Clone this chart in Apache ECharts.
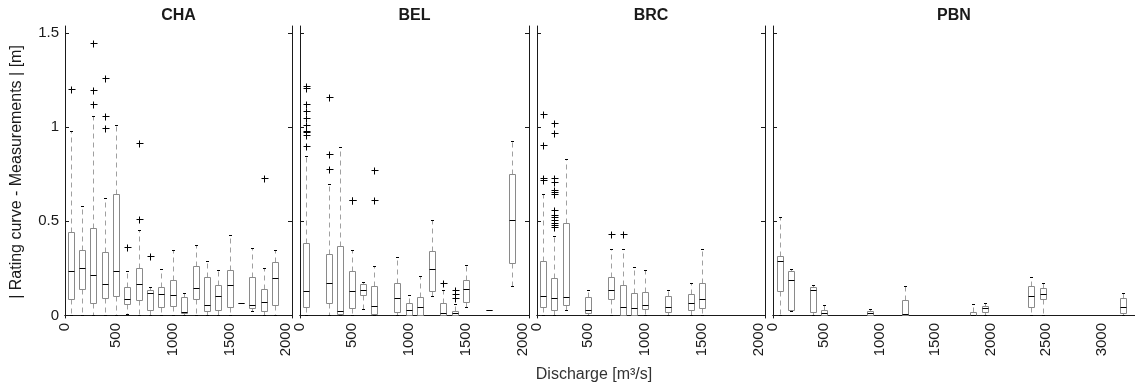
<!DOCTYPE html>
<html>
<head>
<meta charset="utf-8">
<script src="https://cdn.jsdelivr.net/npm/echarts@6/dist/echarts.min.js"></script>
<style>
html,body{margin:0;padding:0;background:#fff;}
#main{width:1135px;height:386px;}
</style>
</head>
<body>
<div id="main"></div>
<script>
// panel names
const panels = ['CHA', 'BEL', 'BRC', 'PBN'];

// boxes: [discharge, lower whisker, q1, median, q3, upper whisker]
const chaBoxes = [
  [100, 0, 0.085, 0.234, 0.443, 0.980],
  [200, 0, 0.142, 0.253, 0.349, 0.579],
  [300, 0, 0.065, 0.216, 0.464, 1.059],
  [400, 0, 0.094, 0.169, 0.337, 0.626],
  [500, 0, 0.101, 0.234, 0.647, 1.009],
  [600, 0.009, 0.058, 0.089, 0.153, 0.234],
  [700, 0, 0.083, 0.169, 0.251, 0.455],
  [800, 0, 0.030, 0.118, 0.136, 0.150],
  [900, 0, 0.044, 0.115, 0.150, 0.248],
  [1000, 0, 0.049, 0.110, 0.189, 0.349],
  [1100, 0, 0.012, 0.017, 0.097, 0.118],
  [1200, 0, 0.085, 0.147, 0.264, 0.376],
  [1300, 0, 0.021, 0.056, 0.204, 0.287],
  [1400, 0, 0.027, 0.105, 0.163, 0.240],
  [1500, 0, 0.047, 0.163, 0.242, 0.426],
  [1600, 0.065, 0.065, 0.065, 0.065, 0.065],
  [1700, 0.021, 0.039, 0.056, 0.204, 0.358],
  [1800, 0, 0.023, 0.069, 0.142, 0.251],
  [1900, 0, 0.056, 0.200, 0.284, 0.349]
];
// outliers: [discharge, value]
const chaOutliers = [
  [100, 1.204], [300, 1.449], [300, 1.197], [300, 1.122],
  [400, 1.263], [400, 1.059], [400, 0.997], [600, 0.364],
  [700, 0.512], [700, 0.913], [800, 0.313], [1800, 0.727]
];

const belBoxes = [
  [100, 0, 0.047, 0.127, 0.384, 0.846],
  [300, 0, 0.067, 0.174, 0.328, 0.696],
  [400, 0, 0.009, 0.023, 0.369, 0.894],
  [500, 0, 0.039, 0.127, 0.236, 0.346],
  [600, 0.036, 0.107, 0.136, 0.167, 0.176],
  [700, 0, 0.009, 0.051, 0.156, 0.262],
  [900, 0, 0.017, 0.094, 0.170, 0.312],
  [1000, 0, 0, 0.030, 0.067, 0.110],
  [1100, 0, 0, 0.046, 0.096, 0.209],
  [1200, 0.105, 0.131, 0.248, 0.344, 0.509],
  [1300, 0, 0, 0.014, 0.065, 0.133],
  [1400, 0, 0, 0.011, 0.023, 0.061],
  [1500, 0.043, 0.073, 0.142, 0.189, 0.269],
  [1700, 0.028, 0.028, 0.028, 0.028, 0.028],
  [1900, 0.158, 0.278, 0.505, 0.751, 0.926]
];
const belOutliers = [
  [100, 1.218], [100, 1.206], [100, 1.121], [100, 1.086], [100, 1.050],
  [100, 1.011], [100, 0.980], [100, 0.972], [100, 0.958], [100, 0.900],
  [300, 1.158], [300, 0.856], [300, 0.780],
  [500, 0.612], [500, 0.615],
  [700, 0.612], [700, 0.771],
  [1300, 0.174],
  [1400, 0.133], [1400, 0.115], [1400, 0.094]
];

const brcBoxes = [
  [100, 0, 0.046, 0.105, 0.287, 0.642],
  [200, 0, 0.030, 0.091, 0.200, 0.420],
  [300, 0.027, 0.056, 0.099, 0.491, 0.833],
  [500, 0, 0.012, 0.030, 0.096, 0.136],
  [700, 0, 0.085, 0.133, 0.206, 0.355],
  [800, 0, 0.004, 0.046, 0.160, 0.351],
  [900, 0, 0, 0.041, 0.120, 0.257],
  [1000, 0, 0.036, 0.053, 0.123, 0.240],
  [1200, 0, 0.016, 0.046, 0.105, 0.133],
  [1400, 0, 0.027, 0.067, 0.115, 0.174],
  [1500, 0, 0.037, 0.089, 0.170, 0.355]
];
const brcOutliers = [
  [100, 1.069], [100, 0.904], [100, 0.732], [100, 0.721],
  [200, 1.022], [200, 0.966], [200, 0.732], [200, 0.709], [200, 0.665],
  [200, 0.656], [200, 0.647], [200, 0.559], [200, 0.532], [200, 0.520],
  [200, 0.505], [200, 0.492], [200, 0.479], [200, 0.467],
  [700, 0.431], [800, 0.431]
];

const pbnBoxes = [
  [100, 0, 0.129, 0.287, 0.317, 0.523],
  [200, 0.021, 0.030, 0.189, 0.236, 0.246],
  [400, 0, 0.017, 0.133, 0.149, 0.163],
  [500, 0, 0, 0.012, 0.030, 0.056],
  [910, 0, 0, 0.012, 0.023, 0.036],
  [1230, 0, 0, 0.009, 0.083, 0.158],
  [1840, 0, 0, 0.004, 0.018, 0.062],
  [1950, 0, 0.018, 0.037, 0.049, 0.068],
  [2360, 0, 0.046, 0.105, 0.156, 0.206],
  [2470, 0, 0.085, 0.115, 0.145, 0.174],
  [3190, 0, 0.012, 0.046, 0.094, 0.120]
];
const pbnOutliers = [];

// axis ticks
const xTicks1 = [500, 1000, 1500, 2000];
const xTicks2 = [500, 1000, 1500, 2000, 2500, 3000];
const yTicks = [0, 0.5, 1, 1.5];

const boxes = [chaBoxes, belBoxes, brcBoxes, pbnBoxes];
const outliers = [chaOutliers, belOutliers, brcOutliers, pbnOutliers];
const xTicks = [xTicks1, xTicks1, xTicks1, xTicks2];
const xRange = [[50, 2050], [50, 2050], [50, 2050], [40, 3300]];

const font = 'Liberation Sans, Arial, sans-serif';
const ink = '#1a1a1a';
const yMin = -0.014, yMax = 1.537;

// plot areas
const grids = [
  {left: 65, top: 26, width: 227, height: 292},
  {left: 300, top: 26, width: 229, height: 292},
  {left: 537, top: 26, width: 228, height: 292},
  {left: 773, top: 26, width: 362, height: 292}
];

const chart = echarts.init(document.getElementById('main'), null, {renderer: 'canvas'});

function px(v) { return Math.round(v) + 0.5; }

function drawBox(params, api) {
  const x = api.value(0);
  const pts = [1, 2, 3, 4, 5].map(i => api.coord([x, api.value(i)]));
  const cx = px(pts[0][0]);
  const y = pts.map(p => px(p[1]));
  const hw = 3, cw = 1.5;
  const dash = {stroke: '#a0a0a0', lineWidth: 1, lineDash: [5, 4]};
  return {
    type: 'group',
    children: [
      {type: 'line', shape: {x1: cx, y1: y[3], x2: cx, y2: y[4]}, style: dash},
      {type: 'line', shape: {x1: cx, y1: y[1], x2: cx, y2: y[0]}, style: dash},
      {type: 'line', shape: {x1: cx - cw, y1: y[4], x2: cx + cw, y2: y[4]}, style: {stroke: '#000', lineWidth: 1}},
      {type: 'line', shape: {x1: cx - cw, y1: y[0], x2: cx + cw, y2: y[0]}, style: {stroke: '#000', lineWidth: 1}},
      {type: 'rect', shape: {x: cx - hw, y: y[3], width: 2 * hw, height: y[1] - y[3]}, style: {fill: 'none', stroke: '#8a8a8a', lineWidth: 1}},
      {type: 'line', shape: {x1: cx - hw, y1: y[2], x2: cx + hw, y2: y[2]}, style: {stroke: '#000', lineWidth: 1}}
    ]
  };
}

function drawPlus(params, api) {
  const c = api.coord([api.value(0), api.value(1)]);
  const x = px(c[0]), y = px(c[1]), r = 3;
  return {
    type: 'group',
    children: [
      {type: 'line', shape: {x1: x - r, y1: y, x2: x + r + 1, y2: y}, style: {stroke: '#000', lineWidth: 1}},
      {type: 'line', shape: {x1: x, y1: y - r, x2: x, y2: y + r + 1}, style: {stroke: '#000', lineWidth: 1}}
    ]
  };
}

const xAxis = [], yAxis = [], series = [];
panels.forEach((name, i) => {
  const lo = xRange[i][0];
  xAxis.push({
    type: 'value', gridIndex: i, min: lo, max: xRange[i][1],
    axisLine: {show: true, lineStyle: {color: ink}},
    axisTick: {show: false},
    splitLine: {show: false},
    axisLabel: {
      rotate: 90, margin: 5, fontSize: 15, fontFamily: font, color: ink,
      customValues: [lo].concat(xTicks[i]),
      formatter: v => (v === lo ? '0' : String(v))
    }
  });
  yAxis.push({
    type: 'value', gridIndex: i, min: yMin, max: yMax,
    axisLine: {show: true, lineStyle: {color: ink}},
    axisTick: {show: true, inside: true, length: 4, customValues: yTicks, lineStyle: {color: ink}},
    splitLine: {show: false},
    axisLabel: i === 0
      ? {show: true, customValues: yTicks, fontSize: 15, fontFamily: font, color: ink, margin: 6}
      : {show: false},
    name: i === 0 ? '| Rating curve - Measurements | [m]' : '',
    nameLocation: 'middle', nameGap: 40,
    nameTextStyle: {fontSize: 16, fontFamily: font, color: ink}
  });
  series.push({
    type: 'custom', xAxisIndex: i, yAxisIndex: i,
    renderItem: drawBox, data: boxes[i]
  });
  series.push({
    type: 'custom', xAxisIndex: i, yAxisIndex: i,
    renderItem: drawPlus, data: outliers[i]
  });
});
// mirrored box sides (top and right); last panel is cut at the right edge
panels.forEach((name, i) => {
  xAxis.push({
    type: 'value', gridIndex: i, position: 'top', min: xRange[i][0], max: xRange[i][1],
    axisLine: {show: true, lineStyle: {color: ink}},
    axisTick: {show: false}, axisLabel: {show: false}, splitLine: {show: false}
  });
  yAxis.push({
    type: 'value', gridIndex: i, position: 'right', min: yMin, max: yMax,
    axisLine: {show: i < 3, lineStyle: {color: ink}},
    axisTick: {show: i < 3, inside: true, length: 4, customValues: yTicks, lineStyle: {color: ink}},
    axisLabel: {show: false}, splitLine: {show: false}
  });
});

const titles = panels.map((name, i) => ({
  text: name,
  left: grids[i].left + grids[i].width / 2,
  top: 8, padding: 0, textAlign: 'center',
  textStyle: {fontSize: 16, fontWeight: 'bold', fontFamily: font, color: ink}
}));
titles.push({
  text: 'Discharge [m³/s]',
  left: 594, top: 367, padding: 0, textAlign: 'center',
  textStyle: {fontSize: 16, fontWeight: 'normal', fontFamily: font, color: '#333'}
});

chart.setOption({
  animation: false,
  backgroundColor: '#fff',
  title: titles,
  grid: grids,
  xAxis: xAxis,
  yAxis: yAxis,
  series: series
});
</script>
</body>
</html>
